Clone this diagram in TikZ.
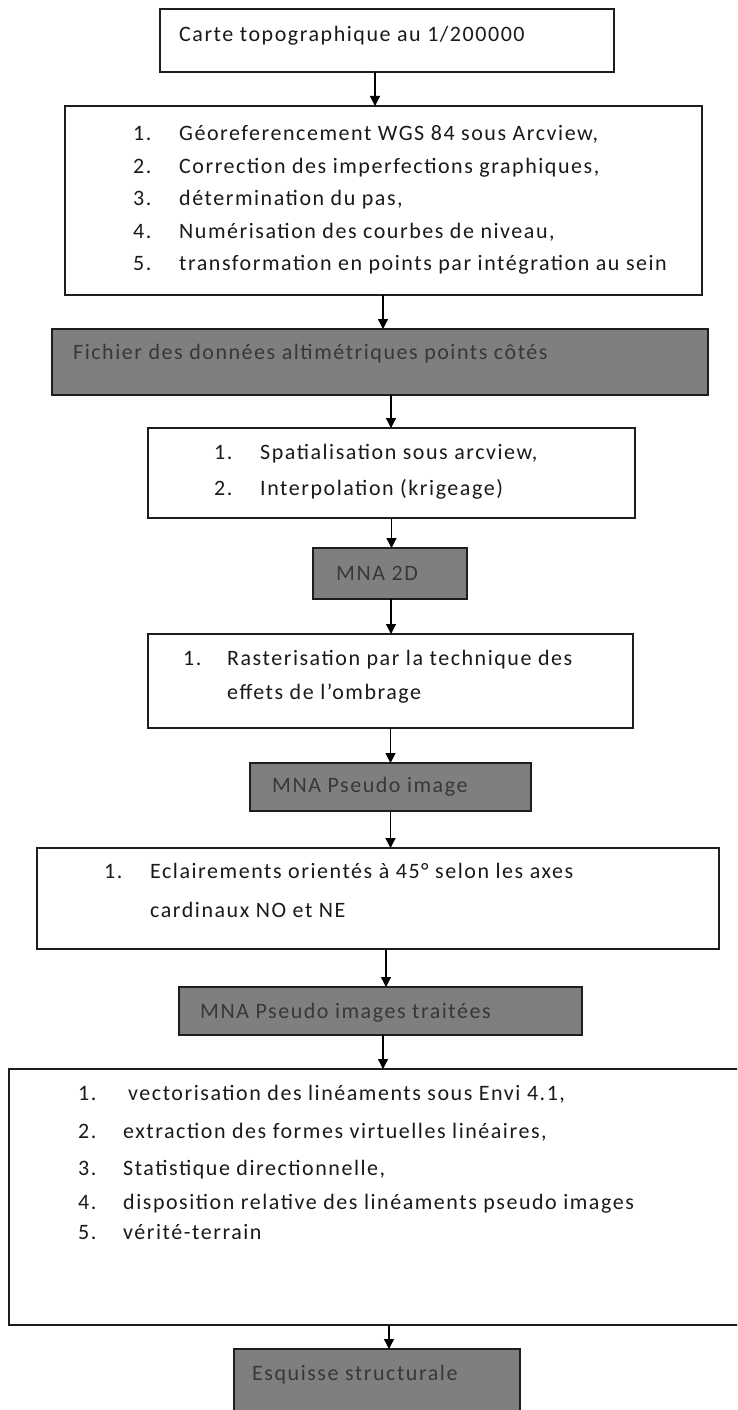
\documentclass[tikz,border=0pt]{standalone}
\usepackage{fontspec}
\setmainfont{Carlito}[LetterSpace=7]
\usetikzlibrary{arrows.meta}
\definecolor{boxline}{HTML}{1E1E1E}
\definecolor{grayfill}{HTML}{7F7F7F}
\definecolor{graytext}{HTML}{383838}
\definecolor{inktext}{HTML}{1A1A1A}
\begin{document}
\begin{tikzpicture}[x=1pt,y=-1pt,
  wbox/.style={draw=boxline,line width=1.8pt,fill=white,inner sep=0pt,outer sep=0pt,anchor=north west},
  gbox/.style={draw=boxline,line width=1.6pt,fill=grayfill,inner sep=0pt,outer sep=0pt,anchor=north west},
  txt/.style={inner sep=0pt,anchor=mid west,text=inktext,font=\fontsize{22}{24}\selectfont},
  gtxt/.style={txt,text=graytext},
  arr/.style={draw=black,line width=1.3pt,-{Triangle[width=10pt,length=10pt]}}]
\useasboundingbox (0,0) rectangle (737,1410);
\clip (0,0) rectangle (737,1410);
\fill[white] (0,0) rectangle (737,1410);
% boxes
\node[wbox,minimum width=454pt,minimum height=63pt] (c1) at (160,9) {};
\node[wbox,minimum width=637pt,minimum height=189pt] (p1) at (65,106) {};
\node[gbox,minimum width=656pt,minimum height=66pt] (d1) at (52,329) {};
\node[wbox,minimum width=487pt,minimum height=90pt] (p2) at (148,428) {};
\node[gbox,minimum width=154pt,minimum height=51pt] (d2) at (313,548) {};
\node[wbox,minimum width=485pt,minimum height=94pt] (p3) at (148,634) {};
\node[gbox,minimum width=281pt,minimum height=48pt] (d3) at (250,763) {};
\node[wbox,minimum width=682pt,minimum height=101pt] (p4) at (37,848) {};
\node[gbox,minimum width=403pt,minimum height=48pt] (d4) at (179,987) {};
\node[wbox,minimum width=740pt,minimum height=256pt] (p5) at (9,1069) {};
\node[gbox,minimum width=286pt,minimum height=75pt] (d5) at (234,1349) {};
% texts
\node[txt] (t1) at (179,39) {Carte topographique au 1/200000};
\node[txt] (t21) at (133,138) {\makebox[46pt][l]{1.}Géoreferencement WGS 84 sous Arcview,};
\node[txt] (t22) at (133,171) {\makebox[46pt][l]{2.}Correction des imperfections graphiques,};
\node[txt] (t23) at (133,203) {\makebox[46pt][l]{3.}détermination du pas,};
\node[txt] (t24) at (133,236) {\makebox[46pt][l]{4.}Numérisation des courbes de niveau,};
\node[txt] (t25) at (133,268) {\makebox[46pt][l]{5.}transformation en points par intégration au sein};
\node[gtxt] (t3) at (73,357) {Fichier des données altimétriques points côtés};
\node[txt] (t41) at (214,457) {\makebox[46pt][l]{1.}Spatialisation sous arcview,};
\node[txt] (t42) at (214,493) {\makebox[46pt][l]{2.}Interpolation (krigeage)};
\node[gtxt] (t5) at (336,578) {MNA 2D};
\node[txt] (t61) at (183,663) {\makebox[44pt][l]{1.}Rasterisation par la technique des};
\node[txt] (t62) at (227,697) {effets de l’ombrage};
\node[gtxt] (t7) at (272,790) {MNA Pseudo image};
\node[txt] (t81) at (104,876) {\makebox[46pt][l]{1.}Eclairements orientés à 45° selon les axes};
\node[txt] (t82) at (150,915) {cardinaux NO et NE};
\node[gtxt] (t9) at (200,1016) {MNA Pseudo images traitées};
\node[txt] (t101) at (78,1098) {\makebox[50pt][l]{1.}vectorisation des linéaments sous Envi 4.1,};
\node[txt] (t102) at (78,1136) {\makebox[45pt][l]{2.}extraction des formes virtuelles linéaires,};
\node[txt] (t103) at (78,1173) {\makebox[45pt][l]{3.}Statistique directionnelle,};
\node[txt] (t104) at (78,1207) {\makebox[45pt][l]{4.}disposition relative des linéaments pseudo images};
\node[txt] (t105) at (78,1237) {\makebox[45pt][l]{5.}vérité-terrain};
\node[gtxt] (t11) at (252,1378) {Esquisse structurale};
% arrows
\draw[arr] ([xshift=-12pt]c1.south) -- ([xshift=-12pt]c1.south |- p1.north);
\draw[arr] ([xshift=-0.5pt]p1.south) -- ([xshift=-0.5pt]p1.south |- d1.north);
\draw[arr] ([xshift=11pt]d1.south) -- ([xshift=11pt]d1.south |- p2.north);
\draw[arr] (p2.south) -- (p2.south |- d2.north);
\draw[arr] ([xshift=1pt]d2.south) -- ([xshift=1pt]d2.south |- p3.north);
\draw[arr] (p3.south) -- (p3.south |- d3.north);
\draw[arr] (d3.south) -- (d3.south |- p4.north);
\draw[arr] ([xshift=8pt]p4.south) -- ([xshift=8pt]p4.south |- d4.north);
\draw[arr] ([xshift=2.5pt]d4.south) -- ([xshift=2.5pt]d4.south |- p5.north);
\draw[arr] ([xshift=10pt]p5.south) -- ([xshift=10pt]p5.south |- d5.north);
\end{tikzpicture}
\end{document}
